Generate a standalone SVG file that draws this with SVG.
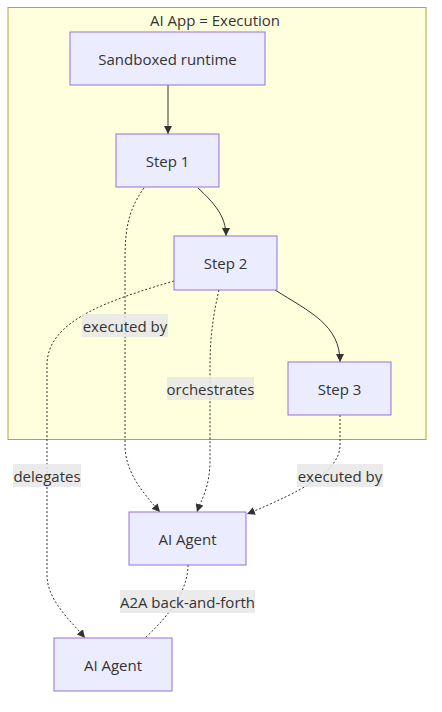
<svg xmlns="http://www.w3.org/2000/svg" width="442" height="712" viewBox="0 0 442 712">
<defs>
<style>
.node rect{fill:#ECECFF;stroke:#9370DB;stroke-width:1}
text{font-family:"Trebuchet MS","Open Sans","DejaVu Sans",sans-serif;font-size:15px;fill:#333;text-anchor:middle;dominant-baseline:central}
.edge{fill:none;stroke:#333;stroke-width:1}
.dot{stroke-dasharray:2 2}
.lbl rect{fill:#e8e8e8;fill-opacity:0.85}
</style>
<marker id="arr" viewBox="0 0 10 10" refX="10" refY="5" markerWidth="8" markerHeight="8" markerUnits="userSpaceOnUse" orient="auto">
<path d="M0,0 L10,5 L0,10 z" fill="#333"/>
</marker>
</defs>
<rect width="442" height="712" fill="#fff"/>
<g id="cluster">
<rect x="8" y="7.5" width="418" height="432" fill="#ffffde" stroke="#aaaa33" stroke-width="1"/>
<text x="215" y="20">AI App = Execution</text>
</g>
<g id="connectors">
<path class="edge" d="M168,85 L168,134" marker-end="url(#arr)"/>
<path class="edge" d="M198,188 C214,203 226,216 226,236" marker-end="url(#arr)"/>
<path class="edge" d="M275,290 C310,312 340,325 340,362" marker-end="url(#arr)"/>
<path class="edge dot" d="M144,188 C128,210 125,230 125,260 L125,445 C125,470 140,490 160,512" marker-end="url(#arr)"/>
<path class="edge dot" d="M174,281 C110,300 47,320 47,365 L47,575 C47,600 70,620 85,638" marker-end="url(#arr)"/>
<path class="edge dot" d="M219,290 C212,320 210,340 210,370 L210,460 C210,488 201,500 197,512" marker-end="url(#arr)"/>
<path class="edge dot" d="M340,415 L340,445 C340,472 300,492 247,514" marker-end="url(#arr)"/>
<path class="edge dot" d="M188,565 C188,590 170,615 145,638"/>
<g class="lbl"><rect x="82" y="314" width="86" height="23"/><text x="125" y="326">executed by</text></g>
<g class="lbl"><rect x="167" y="377" width="87" height="23"/><text x="210.5" y="389">orchestrates</text></g>
<g class="lbl"><rect x="13" y="464" width="68" height="23"/><text x="47" y="476">delegates</text></g>
<g class="lbl"><rect x="297" y="464" width="86" height="23"/><text x="340" y="476">executed by</text></g>
<g class="lbl"><rect x="120" y="590" width="135" height="23"/><text x="187.5" y="602">A2A back-and-forth</text></g>
</g>
<g id="sandbox" class="node"><rect x="70" y="32" width="195" height="53"/><text x="167.5" y="58.5">Sandboxed runtime</text></g>
<g id="step1" class="node"><rect x="116" y="134" width="103" height="53"/><text x="167.5" y="160.5">Step 1</text></g>
<g id="step2" class="node"><rect x="174" y="236" width="103" height="54"/><text x="225.5" y="263">Step 2</text></g>
<g id="step3" class="node"><rect x="288" y="362" width="103" height="53"/><text x="339.5" y="388.5">Step 3</text></g>
<g id="agent1" class="node"><rect x="129" y="512" width="117" height="53"/><text x="187.5" y="538.5">AI Agent</text></g>
<g id="agent2" class="node"><rect x="54" y="638" width="118" height="53"/><text x="113" y="664.5">AI Agent</text></g>
</svg>
